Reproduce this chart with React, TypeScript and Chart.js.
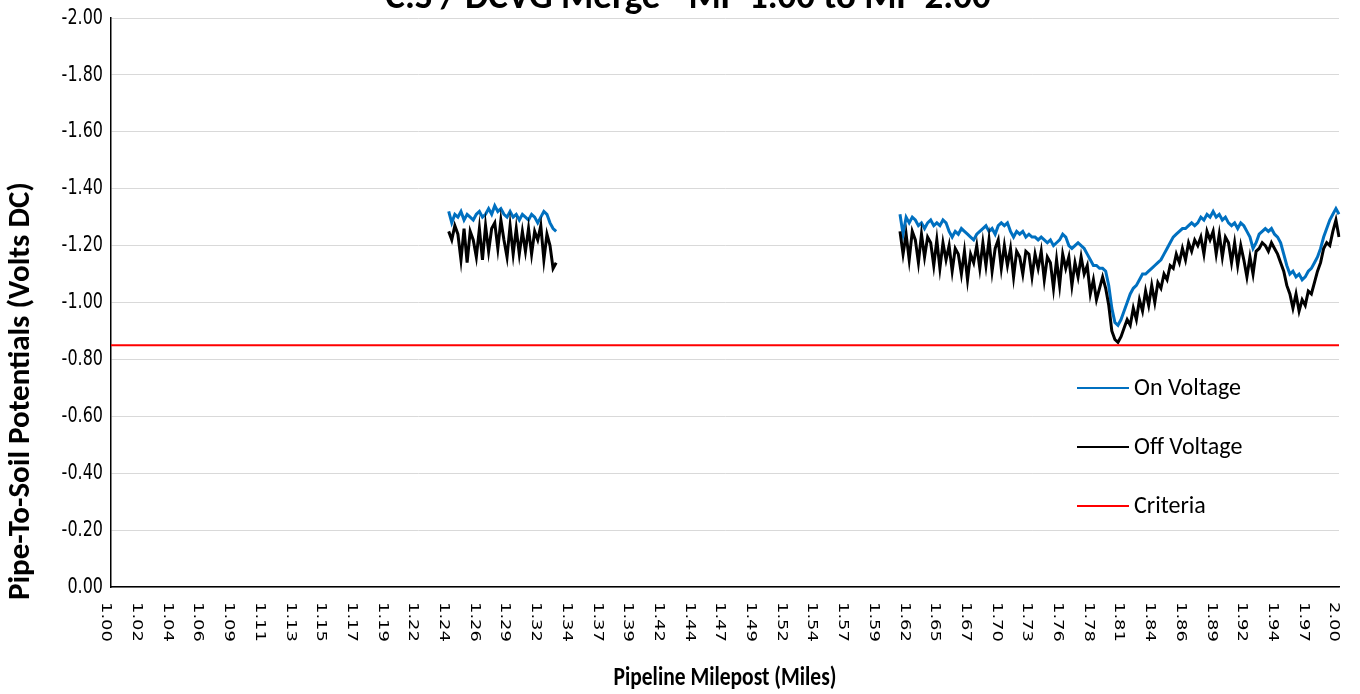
import { useEffect, useRef } from "react";
import { Chart, registerables } from "chart.js";

Chart.register(...registerables);

const chartTitle = "C.S / DCVG Merge - MP 1.00 to MP 2.00";
const xAxisTitle = "Pipeline Milepost (Miles)";
const yAxisTitle = "Pipe-To-Soil Potentials (Volts DC)";

const tickLabels = [
  "1.00", "1.02", "1.04", "1.06", "1.09", "1.11", "1.13", "1.15", "1.17", "1.19",
  "1.22", "1.24", "1.26", "1.29", "1.32", "1.34", "1.37", "1.39", "1.42", "1.44",
  "1.47", "1.49", "1.52", "1.54", "1.57", "1.59", "1.62", "1.65", "1.67", "1.70",
  "1.73", "1.76", "1.78", "1.81", "1.84", "1.86", "1.89", "1.92", "1.94", "1.97", "2.00",
];
const pointsPerLabel = 10;

const seriesNames = ["On Voltage", "Off Voltage", "Criteria"];
const seriesColors = ["#0070C0", "#000000", "#FF0000"];

const seg1Start = 110;
const onSeg1 = [
  -1.32, -1.28, -1.31, -1.30, -1.32, -1.29, -1.31, -1.30, -1.29, -1.31,
  -1.32, -1.30, -1.31, -1.33, -1.31, -1.34, -1.32, -1.33, -1.31, -1.30,
  -1.32, -1.30, -1.31, -1.29, -1.31, -1.30, -1.29, -1.31, -1.30, -1.28,
  -1.30, -1.32, -1.31, -1.28, -1.26, -1.25,
];
const offSeg1 = [
  -1.25, -1.22, -1.27, -1.24, -1.15, -1.26, -1.14, -1.25, -1.22, -1.16,
  -1.26, -1.15, -1.27, -1.18, -1.26, -1.28, -1.19, -1.29, -1.22, -1.16,
  -1.27, -1.17, -1.26, -1.17, -1.25, -1.18, -1.26, -1.17, -1.25, -1.22,
  -1.27, -1.15, -1.24, -1.20, -1.12, -1.14,
];

const seg2Start = 257;
const onSeg2 = [
  -1.31, -1.24, -1.30, -1.28, -1.30, -1.29, -1.27, -1.28, -1.26, -1.28,
  -1.29, -1.27, -1.28, -1.27, -1.29, -1.28, -1.25, -1.23, -1.25, -1.24,
  -1.26, -1.25, -1.24, -1.23, -1.22, -1.24, -1.25, -1.26, -1.27, -1.25,
  -1.26, -1.24, -1.27, -1.28, -1.27, -1.28, -1.25, -1.23, -1.25, -1.24,
  -1.25, -1.23, -1.24, -1.23, -1.23, -1.22, -1.23, -1.22, -1.21, -1.22,
  -1.20, -1.21, -1.22, -1.24, -1.23, -1.20, -1.19, -1.20, -1.21, -1.20,
  -1.19, -1.17, -1.15, -1.13, -1.13, -1.12, -1.12, -1.11, -1.06, -0.98,
  -0.93, -0.92, -0.94, -0.97, -1.00, -1.03, -1.05, -1.06, -1.08, -1.10,
  -1.10, -1.11, -1.12, -1.13, -1.14, -1.15, -1.17, -1.19, -1.21, -1.23,
  -1.24, -1.25, -1.26, -1.26, -1.27, -1.28, -1.27, -1.28, -1.30, -1.29,
  -1.31, -1.30, -1.32, -1.30, -1.31, -1.29, -1.30, -1.28, -1.27, -1.28,
  -1.26, -1.28, -1.27, -1.25, -1.23, -1.19, -1.21, -1.24, -1.25, -1.26,
  -1.25, -1.26, -1.24, -1.23, -1.21, -1.17, -1.13, -1.10, -1.11, -1.09,
  -1.10, -1.08, -1.09, -1.11, -1.12, -1.14, -1.16, -1.19, -1.23, -1.26,
  -1.29, -1.31, -1.33, -1.31,
];
const offSeg2 = [
  -1.25, -1.17, -1.24, -1.15, -1.25, -1.22, -1.14, -1.24, -1.16, -1.23,
  -1.21, -1.13, -1.22, -1.12, -1.21, -1.15, -1.20, -1.11, -1.19, -1.17,
  -1.10, -1.18, -1.08, -1.17, -1.14, -1.20, -1.12, -1.21, -1.13, -1.22,
  -1.11, -1.19, -1.22, -1.12, -1.20, -1.13, -1.19, -1.09, -1.18, -1.16,
  -1.10, -1.18, -1.17, -1.09, -1.17, -1.12, -1.18, -1.08, -1.16, -1.14,
  -1.05, -1.15, -1.06, -1.17, -1.12, -1.16, -1.06, -1.14, -1.09, -1.16,
  -1.10, -1.13, -1.03, -1.08, -1.01, -1.05, -1.09, -1.05, -0.99, -0.90,
  -0.87, -0.86, -0.88, -0.91, -0.94, -0.92, -0.98, -0.94, -1.01, -0.97,
  -1.04, -0.99, -1.06, -1.00, -1.07, -1.05, -1.10, -1.08, -1.13, -1.12,
  -1.17, -1.14, -1.19, -1.15, -1.21, -1.18, -1.22, -1.20, -1.23, -1.17,
  -1.25, -1.22, -1.25, -1.17, -1.24, -1.16, -1.23, -1.21, -1.14, -1.21,
  -1.13, -1.20, -1.15, -1.09, -1.16, -1.10, -1.18, -1.19, -1.21, -1.20,
  -1.18, -1.21, -1.19, -1.17, -1.14, -1.11, -1.06, -1.03, -0.98, -1.03,
  -0.97, -1.01, -0.99, -1.04, -1.03, -1.07, -1.11, -1.14, -1.19, -1.21,
  -1.20, -1.25, -1.29, -1.23,
];

const criteriaValue = -0.85;
const yMin = -2;
const yMax = 0;
const yStep = 0.2;

const FONT_TICK = '"DejaVu Sans", sans-serif';
const FONT_TEXT = 'Carlito, Lato, sans-serif';

const pointCount = (tickLabels.length - 1) * pointsPerLabel + 1;
const categories: string[] = Array.from({ length: pointCount }, (_, i) =>
  i % pointsPerLabel === 0 ? tickLabels[i / pointsPerLabel] : ""
);

function buildSeries(parts: [number, number[]][]): (number | null)[] {
  const out: (number | null)[] = new Array(pointCount).fill(null);
  parts.forEach(([start, vals]) => {
    vals.forEach((v, k) => {
      out[start + k] = v;
    });
  });
  return out;
}

const onData = buildSeries([[seg1Start, onSeg1], [seg2Start, onSeg2]]);
const offData = buildSeries([[seg1Start, offSeg1], [seg2Start, offSeg2]]);
const criteriaData = new Array(pointCount).fill(criteriaValue);

const overlayPlugin = {
  id: "overlay",
  afterDraw(chart: any) {
    const ctx = chart.ctx as CanvasRenderingContext2D;
    const area = chart.chartArea;
    const xs = chart.scales.x;
    const ys = chart.scales.y;
    ctx.save();
    ctx.fillStyle = "#000";

    // main title (mostly above the visible page)
    ctx.font = `bold 37px ${FONT_TEXT}`;
    ctx.textAlign = "center";
    ctx.textBaseline = "alphabetic";
    ctx.fillText(chartTitle, chart.width / 2 + 8, 8);

    // y tick labels (vertically stretched like the reference)
    ctx.font = `16px ${FONT_TICK}`;
    ctx.textAlign = "right";
    ctx.textBaseline = "middle";
    ys.ticks.forEach((t: any) => {
      const y = ys.getPixelForValue(t.value);
      ctx.save();
      ctx.translate(area.left - 8, y);
      ctx.scale(1, 1.35);
      ctx.fillText(Number(t.value).toFixed(2), 0, 0);
      ctx.restore();
    });

    // x tick labels, rotated clockwise (read top to bottom)
    ctx.font = `14px ${FONT_TICK}`;
    ctx.textAlign = "left";
    ctx.textBaseline = "middle";
    tickLabels.forEach((t, k) => {
      const x = xs.getPixelForValue(k * pointsPerLabel);
      ctx.save();
      ctx.translate(x - 5, area.bottom + 15);
      ctx.rotate(Math.PI / 2);
      ctx.scale(1.28, 1);
      ctx.fillText(t, 0, 0);
      ctx.restore();
    });

    // x axis title
    ctx.save();
    ctx.font = `bold 21.5px ${FONT_TEXT}`;
    ctx.textAlign = "center";
    ctx.textBaseline = "middle";
    ctx.translate((area.left + area.right) / 2, 678);
    ctx.scale(1, 1.25);
    ctx.fillText(xAxisTitle, 0, 0);
    ctx.restore();

    // y axis title
    ctx.save();
    ctx.font = `bold 31px ${FONT_TEXT}`;
    ctx.textAlign = "center";
    ctx.textBaseline = "middle";
    ctx.translate(21, 391);
    ctx.rotate(-Math.PI / 2);
    ctx.fillText(yAxisTitle, 0, 0);
    ctx.restore();

    // legend inside plot area
    ctx.font = `24px ${FONT_TEXT}`;
    ctx.textAlign = "left";
    ctx.textBaseline = "middle";
    seriesNames.forEach((name, k) => {
      const y = area.top + 370 + k * 59;
      ctx.strokeStyle = seriesColors[k];
      ctx.lineWidth = 2;
      ctx.beginPath();
      ctx.moveTo(area.right - 262, y);
      ctx.lineTo(area.right - 210, y);
      ctx.stroke();
      ctx.fillStyle = "#000";
      ctx.fillText(name, area.right - 205, y + 1);
    });
    ctx.restore();
  },
};

export default function App() {
  const canvasRef = useRef<HTMLCanvasElement | null>(null);

  useEffect(() => {
    const canvas = canvasRef.current;
    if (!canvas) return;
    const chart = new Chart(canvas, {
      type: "line",
      data: {
        labels: categories,
        datasets: [
          {
            label: seriesNames[0],
            data: onData,
            borderColor: seriesColors[0],
            backgroundColor: seriesColors[0],
            borderWidth: 3,
            pointRadius: 0,
            tension: 0,
            spanGaps: false,
            order: 3,
          },
          {
            label: seriesNames[1],
            data: offData,
            borderColor: seriesColors[1],
            backgroundColor: seriesColors[1],
            borderWidth: 3,
            pointRadius: 0,
            tension: 0,
            spanGaps: false,
            order: 2,
          },
          {
            label: seriesNames[2],
            data: criteriaData,
            borderColor: seriesColors[2],
            backgroundColor: seriesColors[2],
            borderWidth: 2,
            pointRadius: 0,
            tension: 0,
            order: 1,
          },
        ],
      },
      options: {
        animation: false,
        responsive: false,
        maintainAspectRatio: false,
        layout: { padding: { top: 18, right: 21, bottom: 0, left: 0 } },
        plugins: {
          legend: { display: false },
          title: { display: false },
          tooltip: { enabled: false },
        },
        scales: {
          x: {
            type: "category",
            offset: false,
            grid: { display: false },
            border: { display: true, color: "#000", width: 1.5 },
            ticks: { display: false },
            title: { display: false },
            afterFit: (scale: any) => {
              scale.height = 107;
            },
          },
          y: {
            type: "linear",
            min: yMin,
            max: yMax,
            reverse: true,
            grid: { color: "#d9d9d9", lineWidth: 1, drawTicks: false },
            border: { display: true, color: "#000", width: 1.5 },
            ticks: {
              display: false,
              stepSize: yStep,
            },
            afterFit: (scale: any) => {
              scale.width = 111;
            },
          },
        },
      },
      plugins: [overlayPlugin],
    });
    return () => chart.destroy();
  }, []);

  return (
    <div style={{ position: "absolute", left: 0, top: 0, width: 1360, height: 694 }}>
      <canvas ref={canvasRef} width={1360} height={694} style={{ display: "block" }} />
    </div>
  );
}
